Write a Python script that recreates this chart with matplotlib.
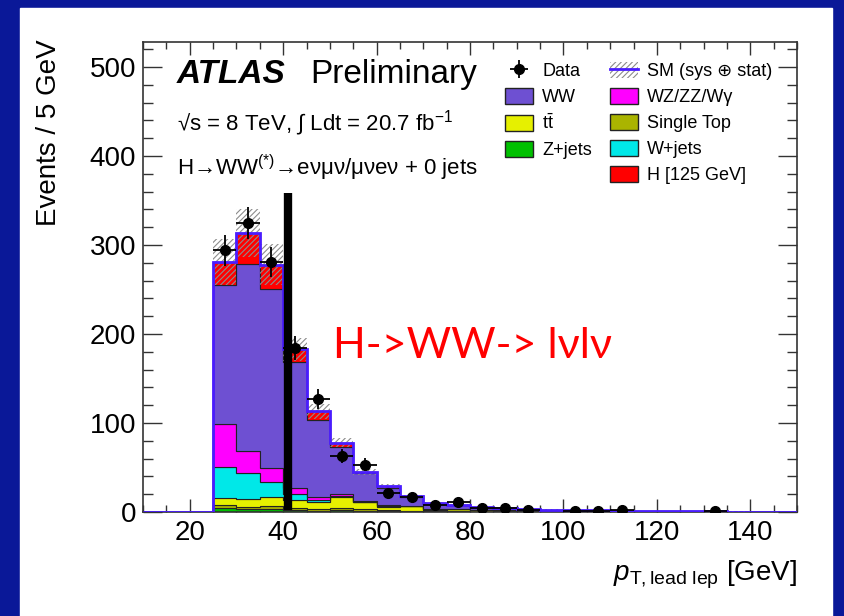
"""Leading-lepton pT distribution for the H->WW 0-jet selection, stacked by process."""

import numpy as np
import matplotlib.pyplot as plt
from matplotlib.patches import Patch, Rectangle
from matplotlib.lines import Line2D
from matplotlib.ticker import MultipleLocator

plt.rcParams["font.family"] = ["Liberation Sans", "DejaVu Sans"]
plt.rcParams["mathtext.fontset"] = "custom"
plt.rcParams["mathtext.rm"] = "Liberation Sans"
plt.rcParams["mathtext.it"] = "Liberation Sans:italic"
plt.rcParams["mathtext.bf"] = "Liberation Sans:bold"
plt.rcParams["hatch.linewidth"] = 0.8

# 5 GeV bins from 10 to 150 GeV
bin_edges = np.arange(10, 155, 5)

data_counts = [0, 0, 0, 294, 325, 281, 184, 127, 63, 53, 21, 17, 8, 11, 4, 5, 2, 0,
               1, 1, 2, 0, 0, 0, 1, 0, 0, 0]

zjets = [0, 0, 0, 4, 3, 3, 2, 1, 2, 1, 1, 0.5, 0.3, 0.3, 0.2, 0.1, 0.1,
         0, 0, 0, 0, 0, 0, 0, 0, 0, 0, 0]
single_top = [0, 0, 0, 4, 3, 4, 3, 2, 3, 2, 1, 1, 0.5, 0.5, 0.3, 0.3, 0.2, 0.2,
              0.1, 0.1, 0.1, 0.1, 0, 0, 0, 0, 0, 0]
ttbar = [0, 0, 0, 8, 9, 10, 8, 8, 12, 8, 4, 5, 2, 2.5, 1.5, 1.2, 1.0, 0.8, 0.6,
         0.5, 0.4, 0.3, 0.3, 0.2, 0.2, 0.1, 0.1, 0.1]
wjets = [0, 0, 0, 35, 29, 17, 7, 2, 1, 0.5, 0.5, 0.3, 0.2, 0.2, 0.1, 0.1, 0.1,
         0, 0, 0, 0, 0, 0, 0, 0, 0, 0, 0]
wz_zz_wg = [0, 0, 0, 48, 25, 15, 7, 4, 2, 1, 1, 0.5, 0.5, 0.3, 0.3, 0.2, 0.2,
            0.1, 0.1, 0.1, 0, 0, 0, 0, 0, 0, 0, 0]
ww = [0, 0, 0, 156, 210, 201, 141, 86, 53, 31.5, 20, 10, 6.5, 4.2, 2.6, 2.1, 1.4,
      1.4, 1.2, 1.0, 0.8, 0.7, 0.6, 0.5, 0.4, 0.4, 0.3, 0.2]
higgs = [0, 0, 0, 26, 34, 28, 15, 10, 5, 1, 1.5, 0.5, 0.5, 0.3, 0.2, 0.1, 0.1,
         0.1, 0.1, 0, 0, 0, 0, 0, 0, 0, 0, 0]
sm_unc = [0, 0, 0, 26, 27, 23, 13, 8, 5, 3, 2, 1.5, 1, 0.8, 0.5, 0.4, 0.3, 0.3,
          0.2, 0.2, 0.1, 0.1, 0.1, 0.1, 0.1, 0.1, 0.1, 0.1]

# annotation bar drawn at the 40 GeV cut
cut_x = 41.0
cut_top = 358

stack = [
    (zjets, "#00c000"),
    (single_top, "#aab400"),
    (ttbar, "#e6f000"),
    (wjets, "#00e8e8"),
    (wz_zz_wg, "#ff00ff"),
    (ww, "#6e50d2"),
    (higgs, "#ff0000"),
]

fig = plt.figure(figsize=(8.45, 6.16), dpi=100, facecolor="#0a1898")
fig.patches.append(Rectangle((20 / 845, 0), 812 / 845, 608 / 616,
                             transform=fig.transFigure, color="white", zorder=-1))
ax = fig.add_axes([143 / 845, 104 / 616, 654 / 845, 470 / 616])
ax.set_zorder(1)

centers = 0.5 * (bin_edges[:-1] + bin_edges[1:])
bottom = np.zeros(len(centers))
for values, colour in stack:
    values = np.asarray(values, dtype=float)
    ax.stairs(bottom + values, bin_edges, baseline=bottom.copy(), fill=True,
              facecolor=colour, edgecolor="#222222", linewidth=0.8, zorder=2)
    bottom = bottom + values
total = bottom

unc = np.asarray(sm_unc, dtype=float)
ax.bar(centers, 2 * unc, bottom=total - unc, width=5, fill=False, hatch="//////",
       edgecolor="#8c8c8c", linewidth=0, zorder=3)
ax.stairs(total, bin_edges, color="#4a1cff", linewidth=2, zorder=4)

counts = np.asarray(data_counts, dtype=float)
seen = counts > 0
data_handle = ax.errorbar(centers[seen], counts[seen], xerr=2.5, yerr=np.sqrt(counts[seen]),
                          fmt="o", color="black", markersize=7, elinewidth=1.3,
                          capsize=0, zorder=5)

ax.plot([cut_x, cut_x], [2, cut_top], color="black", linewidth=6,
        solid_capstyle="butt", zorder=6)

ax.set_xlim(10, 150)
ax.set_ylim(0, 528)
ax.xaxis.set_major_locator(MultipleLocator(20))
ax.xaxis.set_minor_locator(MultipleLocator(5))
ax.yaxis.set_major_locator(MultipleLocator(100))
ax.yaxis.set_minor_locator(MultipleLocator(20))
ax.tick_params(which="both", direction="in", top=True, right=True, labelsize=20,
               color="#333333", width=1.0)
ax.tick_params(axis="x", which="major", length=9.5, pad=6)
ax.tick_params(axis="x", which="minor", length=5)
ax.tick_params(axis="y", which="major", length=14, pad=5)
ax.tick_params(axis="y", which="minor", length=7)
for spine in ax.spines.values():
    spine.set_linewidth(1.2)
    spine.set_color("#333333")

ax.set_ylabel("Events / 5 GeV", fontsize=20, loc="top")
ax.yaxis.set_label_coords(-0.124, 1.005)
ax.set_xlabel(r"$p_{\mathrm{T,lead\ lep}}$ [GeV]", fontsize=20, loc="right")
ax.xaxis.set_label_coords(1.0, -0.1)

ax.text(0.052, 0.913, "ATLAS", transform=ax.transAxes, fontsize=24,
        fontweight="bold", fontstyle="italic")
ax.text(0.256, 0.913, "Preliminary", transform=ax.transAxes, fontsize=24)
ax.text(0.052, 0.813, "√s = 8 TeV, ∫ Ldt = 20.7 fb$^{-1}$", transform=ax.transAxes,
        fontsize=16)
ax.text(0.052, 0.717, "H→WW$^{(*)}$→eνμν/μνeν + 0 jets", transform=ax.transAxes,
        fontsize=16)

ax.text(50.6, 173, "H->WW-> lνlν", color="#ff0000", fontsize=31,
        family=["Lato", "DejaVu Sans"], zorder=7)

legend_entries = [
    (data_handle, "Data"),
    (Patch(facecolor="#6e50d2", edgecolor="#222222"), "WW"),
    (Patch(facecolor="#e6f000", edgecolor="#222222"), r"t$\bar{\mathrm{t}}$"),
    (Patch(facecolor="#00c000", edgecolor="#222222"), "Z+jets"),
    (Patch(facecolor="none", edgecolor="none"), ""),
    ((Patch(facecolor="none", edgecolor="#8c8c8c", hatch="//////", linewidth=0),
      Line2D([], [], color="#4a1cff", linewidth=2)), "SM (sys ⊕ stat)"),
    (Patch(facecolor="#ff00ff", edgecolor="#222222"), "WZ/ZZ/Wγ"),
    (Patch(facecolor="#aab400", edgecolor="#222222"), "Single Top"),
    (Patch(facecolor="#00e8e8", edgecolor="#222222"), "W+jets"),
    (Patch(facecolor="#ff0000", edgecolor="#222222"), "H [125 GeV]"),
]
ax.legend([h for h, _ in legend_entries], [l for _, l in legend_entries], ncol=2,
          loc="upper left", bbox_to_anchor=(0.5535, 0.957), frameon=False,
          fontsize=13, borderpad=0, borderaxespad=0, handlelength=1.55,
          handleheight=1.0, handletextpad=0.5, columnspacing=1.0,
          labelspacing=0.42)

fig.savefig("out.png", dpi=100, facecolor=fig.get_facecolor())
